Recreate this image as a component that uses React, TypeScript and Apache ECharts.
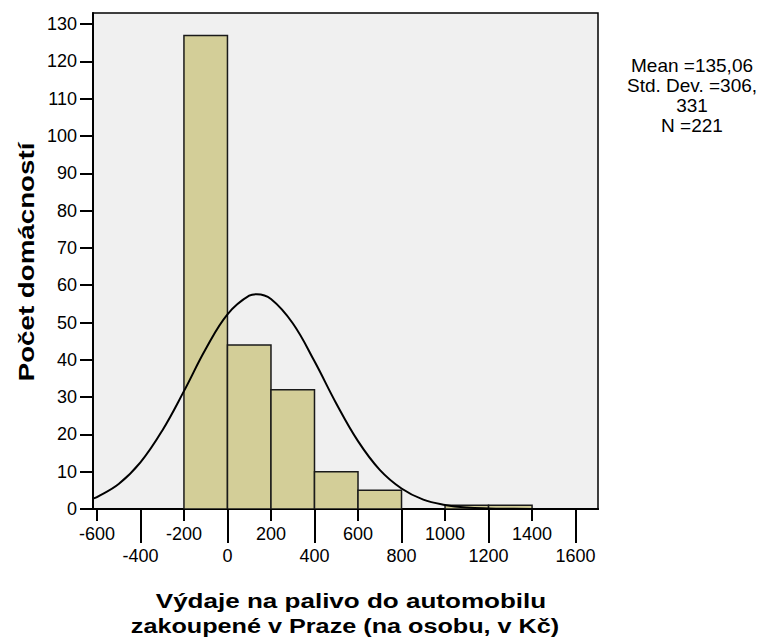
import React, { useEffect, useRef } from "react";
import * as echarts from "echarts";

const binStarts = [-200, 0, 200, 400, 600, 800, 1000, 1200];
const binEnds = [0, 200, 400, 600, 800, 1000, 1200, 1400];
const counts = [127, 44, 32, 10, 5, 0, 1, 1];

const curveX = [-618, -600, -500, -400, -300, -200, -100, 0, 100, 135, 200, 300, 400, 500, 600, 700, 800, 900, 1000, 1100, 1200, 1300, 1400, 1500];
const curveY = [2.8, 3.2, 6.7, 12.5, 21, 31.6, 42.9, 52.2, 57.2, 57.6, 56.3, 49.8, 39.6, 28.3, 18.2, 10.5, 5.5, 2.5, 1.1, 0.4, 0.15, 0.05, 0, 0];

const xTicksRow1 = [-600, -200, 200, 600, 1000, 1400];
const xTicksRow2 = [-400, 0, 400, 800, 1200, 1600];
const yTicks = [0, 10, 20, 30, 40, 50, 60, 70, 80, 90, 100, 110, 120, 130];

const xTitleLines = ["Výdaje na palivo do automobilu", "zakoupené v Praze (na osobu, v Kč)"];
const yTitle = "Počet domácností";
const statLines = ["Mean =135,06", "Std. Dev. =306,", "331", "N =221"];

const X_MIN = -618;
const X_MAX = 1703;
const Y_MIN = 0;
const Y_MAX = 133;

const FONT = "Liberation Sans, Arial, sans-serif";

export default function App() {
  const ref = useRef<HTMLDivElement>(null);

  useEffect(() => {
    if (!ref.current) return;
    const chart = echarts.init(ref.current, undefined, { renderer: "svg" });

    const barData = binStarts.map((s, i) => [s, binEnds[i], counts[i]]);
    const curveData = curveX.map((x, i) => [x, curveY[i]]);
    const fmt = (v: number) => String(v);

    const commonX = {
      type: "value" as const,
      min: X_MIN,
      max: X_MAX,
      position: "bottom" as const,
      splitLine: { show: false },
      axisLine: { show: true, onZero: false, lineStyle: { color: "#000", width: 2 } },
    };

    chart.setOption({
      animation: false,
      textStyle: { fontFamily: FONT },
      grid: {
        left: 93,
        right: 167,
        top: 13,
        bottom: 128,
        show: true,
        backgroundColor: "#f0f0f0",
        borderColor: "#000",
        borderWidth: 1.5,
      },
      xAxis: [
        {
          ...commonX,
          axisTick: {
            show: true,
            length: 12,
            customValues: xTicksRow1,
            lineStyle: { color: "#000", width: 2 },
          },
          axisLabel: {
            customValues: xTicksRow1,
            formatter: fmt,
            color: "#000",
            fontSize: 18,
            fontFamily: FONT,
            margin: 16,
          },
        },
        {
          ...commonX,
          axisTick: {
            show: true,
            length: 34,
            customValues: xTicksRow2,
            lineStyle: { color: "#000", width: 2 },
          },
          axisLabel: {
            customValues: xTicksRow2,
            formatter: fmt,
            color: "#000",
            fontSize: 18,
            fontFamily: FONT,
            margin: 38,
          },
        },
      ],
      yAxis: {
        type: "value",
        min: Y_MIN,
        max: Y_MAX,
        splitLine: { show: false },
        axisLine: { show: true, onZero: false, lineStyle: { color: "#000", width: 2 } },
        axisTick: {
          show: true,
          length: 13,
          customValues: yTicks,
          lineStyle: { color: "#000", width: 2 },
        },
        axisLabel: {
          customValues: yTicks,
          formatter: fmt,
          color: "#000",
          fontSize: 18,
          fontFamily: FONT,
          margin: 16,
        },
      },
      series: [
        {
          type: "custom",
          xAxisIndex: 0,
          yAxisIndex: 0,
          data: barData,
          clip: true,
          renderItem: (params: any, api: any) => {
            const s = api.value(0);
            const e = api.value(1);
            const c = api.value(2);
            if (!c) return null;
            const p0 = api.coord([s, c]);
            const p1 = api.coord([e, 0]);
            return {
              type: "rect",
              shape: { x: p0[0], y: p0[1], width: p1[0] - p0[0], height: p1[1] - p0[1] },
              style: { fill: "#d3ce98", stroke: "#1a1a1a", lineWidth: 1.5 },
            };
          },
        },
        {
          type: "line",
          xAxisIndex: 0,
          yAxisIndex: 0,
          data: curveData,
          smooth: 0.4,
          showSymbol: false,
          symbol: "none",
          clip: true,
          lineStyle: { color: "#000", width: 2 },
          z: 5,
        },
      ],
      graphic: [
        {
          type: "text",
          x: 351,
          y: 601,
          scaleX: 1.24,
          style: {
            text: xTitleLines[0],
            fill: "#000",
            font: `bold 21px ${FONT}`,
            align: "center",
            verticalAlign: "middle",
          },
        },
        {
          type: "text",
          x: 345,
          y: 626,
          scaleX: 1.2,
          style: {
            text: xTitleLines[1],
            fill: "#000",
            font: `bold 21px ${FONT}`,
            align: "center",
            verticalAlign: "middle",
          },
        },
        {
          type: "text",
          x: 26,
          y: 262,
          rotation: Math.PI / 2,
          scaleX: 1.26,
          style: {
            text: yTitle,
            fill: "#000",
            font: `bold 22px ${FONT}`,
            align: "center",
            verticalAlign: "middle",
          },
        },
        {
          type: "text",
          x: 692,
          y: 55,
          style: {
            text: statLines.join("\n"),
            fill: "#000",
            font: `19px ${FONT}`,
            align: "center",
            lineHeight: 20,
          },
        },
      ],
    });

    return () => chart.dispose();
  }, []);

  return <div ref={ref} style={{ width: 765, height: 637, position: "absolute", left: 0, top: 0 }} />;
}
